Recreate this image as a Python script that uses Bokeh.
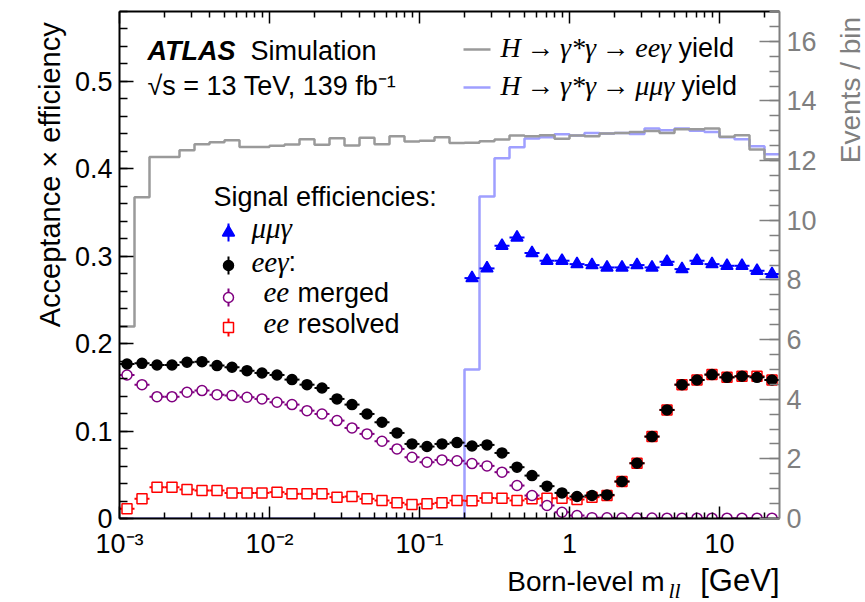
import numpy as np
from bokeh.plotting import figure
from bokeh.layouts import row, column
from bokeh.models import (Range1d, LinearScale, LinearAxis, LogAxis, FixedTicker,
                          SingleIntervalTicker, CustomJSTickFormatter)
from bokeh.core.properties import value
from bokeh.embed import file_html
from bokeh.resources import INLINE

# ---------------- data ----------------
# bins: 0.1 decade wide in Born-level m_ll [GeV], from 1e-3 to 10^1.4
log_bin_edges = [round(-3.0 + 0.1 * k, 1) for k in range(45)]

# Events / bin (right axis)
yield_ee = [6.44, 10.77, 12.12, 12.12, 12.35, 12.55, 12.62, 12.68, 12.46, 12.46,
            12.50, 12.54, 12.72, 12.53, 12.75, 12.51, 12.77, 12.55, 12.82, 12.64,
            12.67, 12.78, 12.59, 12.60, 12.65, 12.71, 12.84, 12.82, 12.85, 12.73,
            12.84, 12.82, 12.91, 12.93, 12.96, 12.99, 12.93, 13.05, 13.05, 13.08,
            12.80, 12.85, 12.37, 12.05]
yield_mumu = [0, 0, 0, 0, 0, 0, 0, 0, 0, 0,
              0, 0, 0, 0, 0, 0, 0, 0, 0, 0,
              0, 0, 0, 5.00, 10.80, 12.08, 12.45, 12.74, 12.78, 12.88,
              12.84, 12.93, 12.91, 12.93, 12.89, 13.08, 13.02, 13.08, 13.00, 12.96,
              12.78, 12.72, 12.48, 12.21]

# Acceptance x efficiency (left axis)
eff_mumu_first_bin = 23
eff_mumu = [0.2750, 0.2861, 0.3120, 0.3215, 0.3036, 0.2949, 0.2949, 0.2910, 0.2899, 0.2872,
            0.2872, 0.2899, 0.2872, 0.2937, 0.2853, 0.2949, 0.2910, 0.2891, 0.2891, 0.2834,
            0.2796]
eff_ee = [0.1768, 0.1775, 0.1756, 0.1756, 0.1787, 0.1794, 0.1749, 0.1730, 0.1691, 0.1665,
          0.1642, 0.1589, 0.1531, 0.1493, 0.1368, 0.1303, 0.1196, 0.1101, 0.0979, 0.0853,
          0.0823, 0.0853, 0.0868, 0.0830, 0.0842, 0.0750, 0.0587, 0.0491, 0.0370, 0.0293,
          0.0251, 0.0263, 0.0270, 0.0423, 0.0632, 0.0937, 0.1242, 0.1531, 0.1585, 0.1646,
          0.1615, 0.1627, 0.1615, 0.1585]
eff_merged = [0.1642, 0.1531, 0.1394, 0.1394, 0.1444, 0.1463, 0.1417, 0.1406, 0.1387, 0.1368,
              0.1330, 0.1303, 0.1234, 0.1196, 0.1120, 0.1036, 0.0968, 0.0884, 0.0796, 0.0701,
              0.0644, 0.0670, 0.0660, 0.0628, 0.0602, 0.0530, 0.0377, 0.0263, 0.0149, 0.0072,
              0.0034, 0.0010, 0.0008, 0.0006, 0.0005, 0.0005, 0.0004, 0.0004, 0.0004, 0.0004,
              0.0004, 0.0004, 0.0004, 0.0004]
eff_resolved = [0.0111, 0.0225, 0.0358, 0.0358, 0.0331, 0.0320, 0.0320, 0.0293, 0.0293, 0.0293,
                0.0301, 0.0282, 0.0282, 0.0282, 0.0244, 0.0251, 0.0225, 0.0206, 0.0179, 0.0160,
                0.0168, 0.0179, 0.0206, 0.0202, 0.0234, 0.0232, 0.0206, 0.0225, 0.0232, 0.0232,
                0.0217, 0.0244, 0.0263, 0.0423, 0.0632, 0.0937, 0.1242, 0.1531, 0.1585, 0.1646,
                0.1615, 0.1627, 0.1627, 0.1585]

x_major_ticks = [1e-3, 1e-2, 1e-1, 1.0, 10.0]
left_tick_step = 0.1
right_tick_step = 2

# ---------------- derived ----------------
edges = 10.0 ** np.array(log_bin_edges)
lo, hi = edges[:-1], edges[1:]
centers = np.sqrt(lo * hi)

SANS = "Liberation Sans"
SERIF = "Liberation Serif"
GRAY_AXIS = "#7f7f7f"
GRAY_HIST = "#9a9a9a"
BLUE_HIST = "#9f9fff"
BASE_SHIFT = 0.34   # glyph text anchor sits this many em above the baseline

# page layout (pixels)
W, H = 865, 602
LEFT_W, RIGHT_W, BOTTOM_H = 70, 41, 39
MAIN_W, MAIN_H = W - LEFT_W - RIGHT_W, H - BOTTOM_H
FL, FR, FT, FB = 119, 779, 11, 518   # frame edges in page pixels

p = figure(width=MAIN_W, height=MAIN_H, x_axis_type="log",
           x_range=Range1d(edges[0], edges[-1]), y_range=Range1d(0, 0.58),
           output_backend="svg", toolbar_location=None,
           min_border_left=FL - LEFT_W, min_border_right=LEFT_W + MAIN_W - FR,
           min_border_top=FT, min_border_bottom=MAIN_H - FB,
           background_fill_color="white", border_fill_color="white")
p.xgrid.visible = False
p.ygrid.visible = False
p.outline_line_color = None
p.extra_y_ranges = {"right": Range1d(0, 17), "ndc": Range1d(0, 1)}
p.extra_x_ranges = {"ndc": Range1d(0, 1)}
p.extra_x_scales = {"ndc": LinearScale()}
p.extra_y_scales = {"ndc": LinearScale()}

def fx(px):
    return (px - FL) / (FR - FL)

def fy(py):
    return (FB - py) / (FB - FT)

minor_x = [m * 10.0 ** e for e in range(-3, 2) for m in range(2, 10) if m * 10.0 ** e <= edges[-1]]

xfmt_code = """
const e = Math.round(Math.log10(tick));
if (e === 0) return "1";
if (e === 1) return "10";
const sup = {"-3": "\u207b\u00b3", "-2": "\u207b\u00b2", "-1": "\u207b\u00b9"};
return "10" + sup[String(e)];
"""

# bottom axis
xa = p.xaxis[0]
xa.ticker = FixedTicker(ticks=x_major_ticks, minor_ticks=minor_x)
xa.formatter = CustomJSTickFormatter(code=xfmt_code)
xa.major_tick_in, xa.major_tick_out = 12, 0
xa.minor_tick_in, xa.minor_tick_out = 6, 0
xa.axis_line_width = 2
xa.major_tick_line_width = 1.5
xa.minor_tick_line_width = 1.5
xa.major_label_text_font = SANS
xa.major_label_text_font_size = "27px"
xa.major_label_text_color = "black"
xa.major_label_standoff = 10

# top axis (ticks only)
ta = LogAxis(ticker=FixedTicker(ticks=x_major_ticks, minor_ticks=minor_x),
             formatter=CustomJSTickFormatter(code='return "";'),
             major_tick_in=12, major_tick_out=0, minor_tick_in=6, minor_tick_out=0,
             axis_line_width=2, major_tick_line_width=1.5, minor_tick_line_width=1.5,
             major_label_text_font_size="0px", major_label_standoff=0)
p.add_layout(ta, "above")

# left axis
ya = p.yaxis[0]
ya.ticker = SingleIntervalTicker(interval=left_tick_step, num_minor_ticks=5)
ya.formatter = CustomJSTickFormatter(code='return tick == 0 ? "0" : tick.toFixed(1);')
ya.major_tick_in, ya.major_tick_out = 14, 0
ya.minor_tick_in, ya.minor_tick_out = 8, 0
ya.axis_line_width = 2
ya.major_tick_line_width = 1.5
ya.minor_tick_line_width = 1.5
ya.major_label_text_font = SANS
ya.major_label_text_font_size = "27px"
ya.major_label_text_color = "black"
ya.major_label_standoff = 7

# right axis
ra = LinearAxis(y_range_name="right",
                ticker=SingleIntervalTicker(interval=right_tick_step, num_minor_ticks=4),
                major_tick_in=20, major_tick_out=0, minor_tick_in=10, minor_tick_out=0,
                axis_line_width=2, axis_line_color=GRAY_AXIS,
                major_tick_line_color=GRAY_AXIS, minor_tick_line_color=GRAY_AXIS,
                major_tick_line_width=1.5, minor_tick_line_width=1.5,
                major_label_text_font=SANS, major_label_text_font_size="27px",
                major_label_text_color=GRAY_AXIS, major_label_standoff=7)
p.add_layout(ra, "right")

# ---------------- histograms (right axis) ----------------
p.step(x=edges, y=list(yield_mumu) + [yield_mumu[-1]], mode="after",
       y_range_name="right", line_color=BLUE_HIST, line_width=2.5)
p.step(x=edges, y=list(yield_ee) + [yield_ee[-1]], mode="after",
       y_range_name="right", line_color=GRAY_HIST, line_width=2.5)

# ---------------- efficiency points (left axis) ----------------
def points(vals, first, color, marker, size, fill, lw=1.5):
    n = len(vals)
    xl, xh, xc = lo[first:first + n], hi[first:first + n], centers[first:first + n]
    p.segment(x0=xl, x1=xh, y0=vals, y1=vals, line_color=color, line_width=2)
    p.scatter(x=xc, y=vals, marker=marker, size=size, line_color=color,
              fill_color=fill, line_width=lw)

points(eff_resolved, 0, "red", "square", 10, "white")
points(eff_merged, 0, "purple", "circle", 10, "white")
points(eff_ee, 0, "black", "circle", 10, "black")
points(eff_mumu, eff_mumu_first_bin, "blue", "triangle", 12, "blue")

# ---------------- texts inside the frame ----------------
def lab(txt, px, py, size=27, font=SANS, style="normal", color="black", align="left"):
    p.text(x=[fx(px)], y=[fy(py)], text=[txt], x_range_name="ndc", y_range_name="ndc",
           y_offset=-BASE_SHIFT * size,
           text_font=value(font), text_font_size=f"{size}px", text_font_style=style,
           text_color=color, text_align=align, text_baseline="alphabetic")

lab("ATLAS", 147, 59.5, style="bold italic")
lab("Simulation", 250, 59.5)
lab("\u221as = 13 TeV, 139 fb\u207b\u00b9", 147, 95)

# top-right legend
p.segment(x0=[fx(463), fx(463)], x1=[fx(490), fx(490)], y0=[fy(49), fy(87)], y1=[fy(49), fy(87)],
          x_range_name="ndc", y_range_name="ndc",
          line_color=[GRAY_HIST, BLUE_HIST], line_width=2.5)
TS = "\u2009"
lab("H" + TS + "\u2192" + TS + "\u03b3*\u03b3" + TS + "\u2192" + TS + "ee\u03b3",
    500, 57, size=28, font=SERIF, style="italic")
lab("yield", 678, 57)
lab("H" + TS + "\u2192" + TS + "\u03b3*\u03b3" + TS + "\u2192" + TS + "\u03bc\u03bc\u03b3",
    500, 95, size=28, font=SERIF, style="italic")
lab("yield", 681, 95)

# signal efficiency legend
lab("Signal efficiencies:", 213, 206)
leg_rows = [232, 265, 297, 327]
leg_x = 228
leg_style = [("blue", "triangle", 12, "blue"), ("black", "circle", 10, "black"),
             ("purple", "circle", 10, "white"), ("red", "square", 10, "white")]
for ry, (c, m, s, f) in zip(leg_rows, leg_style):
    p.segment(x0=[fx(leg_x)], x1=[fx(leg_x)], y0=[fy(ry - 9)], y1=[fy(ry + 9)],
              x_range_name="ndc", y_range_name="ndc", line_color=c, line_width=2)
    p.scatter(x=[fx(leg_x)], y=[fy(ry)], x_range_name="ndc", y_range_name="ndc",
              marker=m, size=s, line_color=c, fill_color=f, line_width=1.5)
lab("\u03bc\u03bc\u03b3", 251, 237.5, size=29, font=SERIF, style="italic")
lab("ee\u03b3", 251, 271, size=29, font=SERIF, style="italic")
lab(":", 288, 271)
lab("ee", 263, 302, size=29, font=SERIF, style="italic")
lab("merged", 297, 302)
lab("ee", 263, 333, size=29, font=SERIF, style="italic")
lab("resolved", 297, 333)

# ---------------- axis titles in side panels ----------------
def panel(w, h):
    f = figure(width=w, height=h, x_range=Range1d(0, w), y_range=Range1d(0, h),
               output_backend="svg", toolbar_location=None,
               x_axis_location=None, y_axis_location=None, min_border=0,
               background_fill_color="white", border_fill_color="white")
    f.outline_line_color = None
    f.grid.visible = False
    return f

def ptext(f, txt, x, y_from_top, size=28, font=SANS, style="normal", color="black",
          align="left", vertical=False):
    shift = BASE_SHIFT * size
    f.text(x=[x], y=[f.height - y_from_top], text=[txt],
           angle=np.pi / 2 if vertical else 0.0,
           x_offset=-shift if vertical else 0, y_offset=0 if vertical else -shift,
           text_font=value(font), text_font_size=f"{size}px", text_font_style=style,
           text_color=color, text_align=align, text_baseline="alphabetic")

left_p = panel(LEFT_W, MAIN_H)
ptext(left_p, "Acceptance \u00d7 efficiency", 59, 12, size=29, align="right", vertical=True)

right_p = panel(RIGHT_W, MAIN_H)
ptext(right_p, "Events / bin", 860 - (LEFT_W + MAIN_W), 6, align="right",
      vertical=True, color=GRAY_AXIS)

bottom_p = panel(W, BOTTOM_H)
by = 591 - MAIN_H
ptext(bottom_p, "[GeV]", 779, by, size=31, align="right")
ptext(bottom_p, "ll", 668, by + 6, size=22, font=SERIF, style="italic")
ptext(bottom_p, "Born-level m", 664, by, align="right")

layout = column(row(left_p, p, right_p, spacing=0), bottom_p, spacing=0)

open("out.html", "w").write(file_html(layout, INLINE))
